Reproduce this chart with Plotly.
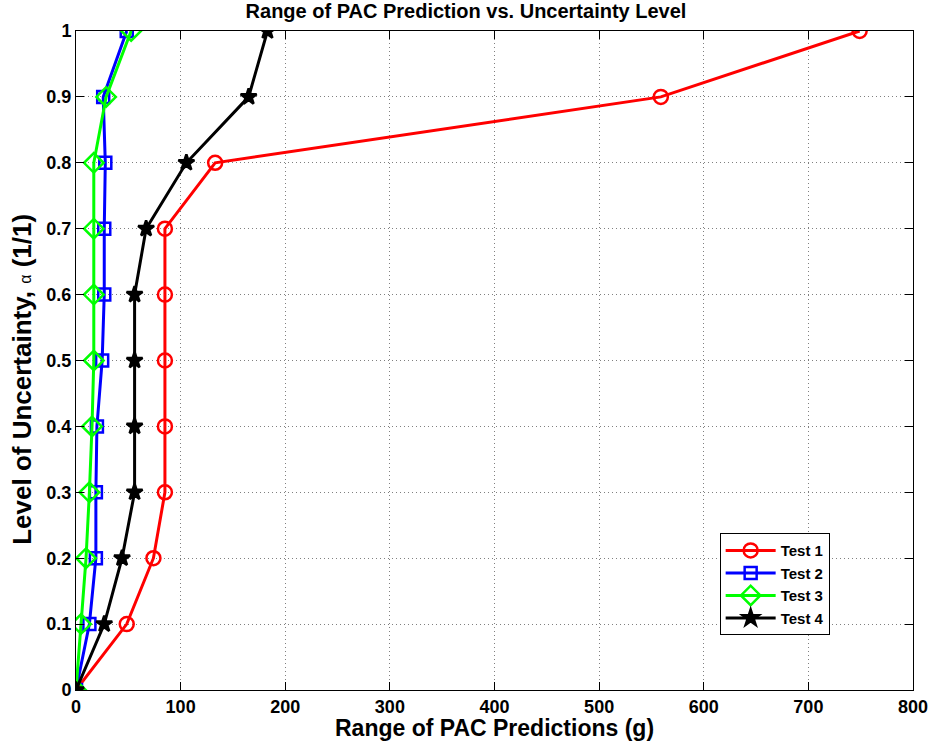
import plotly.graph_objects as go

alpha = [0, 0.1, 0.2, 0.3, 0.4, 0.5, 0.6, 0.7, 0.8, 0.9, 1.0]
test1 = [0, 48.5, 74, 85, 85, 85, 85, 85, 133, 559, 749]
test2 = [0, 12.8, 19, 19, 20, 25, 27, 27, 28, 26, 48.5]
test3 = [0, 4.8, 9.6, 12.8, 15.3, 17, 17, 17, 17, 28.8, 52.7]
test4 = [0, 27, 44, 56, 56, 56, 56, 67, 105.5, 165, 183]

series = [
    ("Test 1", test1, "#ff0000", "circle-open", 14),
    ("Test 2", test2, "#0000ff", "square-open", 12),
    ("Test 3", test3, "#00ff00", "diamond-open", 15),
    ("Test 4", test4, "#000000", "star", 12),
]

fig = go.Figure()
for name, xs, color, sym, sz in series:
    fig.add_trace(go.Scatter(
        x=xs, y=alpha, name=name, mode="lines+markers",
        line=dict(color=color, width=3),
        marker=dict(symbol=sym, size=sz, color=color,
                    line=dict(color=color, width=2.5)),
    ))

font = dict(family="Liberation Sans, Arial, sans-serif", color="black")
axis_common = dict(
    showgrid=True, gridcolor="#808080", griddash="1px,3px", gridwidth=1,
    showline=True, linecolor="black", linewidth=1, mirror="ticks",
    ticks="inside", ticklen=8, tickcolor="black",
    zeroline=False, automargin=False,
    tickfont=dict(size=18, weight="bold", **font),
)
fig.update_layout(
    width=932, height=746,
    paper_bgcolor="white", plot_bgcolor="white",
    margin=dict(l=76, r=19, t=31, b=56),
    title=dict(text="Range of PAC Prediction vs. Uncertainty Level",
               x=0.5, xanchor="center", xref="container", y=0.995, yanchor="top",
               font=dict(size=20, weight="bold", **font)),
    xaxis=dict(range=[0, 800], dtick=100, tick0=0, **axis_common),
    yaxis=dict(range=[0, 1], dtick=0.1, tick0=0, **axis_common),
    legend=dict(x=0.769, y=0.238, xanchor="left", yanchor="top",
                bgcolor="white", bordercolor="black", borderwidth=1,
                font=dict(size=15, weight="bold", **font),
                tracegroupgap=0, itemwidth=50),
    showlegend=True,
    annotations=[
        dict(text="Range of PAC Predictions (g)", xref="paper", yref="paper",
             x=0.5, y=-0.058, xanchor="center", yanchor="middle",
             showarrow=False, font=dict(size=23, weight="bold", **font)),
        dict(text="Level of Uncertainty, <span style='font-size:16px;font-weight:normal'>α</span> (1/1)",
             xref="paper", yref="paper", x=-0.0647, y=0.472,
             xanchor="center", yanchor="middle", textangle=-90,
             showarrow=False, font=dict(size=26, weight="bold", **font)),
    ],
)
fig.write_html("out.html", config={"displayModeBar": False},
               post_script="document.body.style.margin='0px';document.body.style.overflow='hidden';")
